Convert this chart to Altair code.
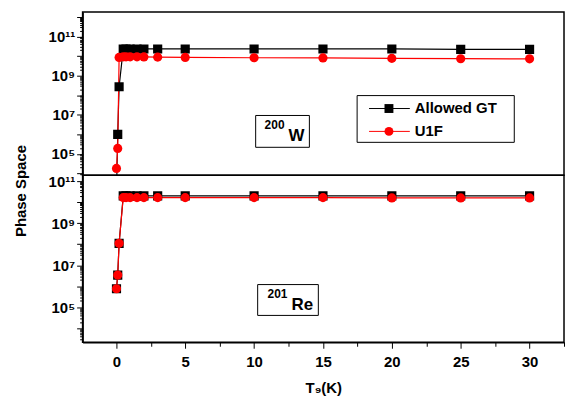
import altair as alt
import pandas as pd

# ---- data ----
T = [0.01, 0.1, 0.2, 0.5, 0.7, 1, 1.5, 2, 3, 5, 10, 15, 20, 25, 30]

w_gt = [1e3, 9.8e5, 2.7e8, 2.3e10, 2.3e10, 2.3e10, 2.3e10, 2.3e10, 2.3e10, 2.3e10,
        2.3e10, 2.3e10, 2.3e10, 2.2e10, 2.2e10]
w_u1f = [1.8e4, 1.9e5, 8.5e9, 9.1e9, 9.1e9, 9.1e9, 9.1e9, 9.0e9, 8.8e9, 8.5e9,
         8.2e9, 8.0e9, 7.6e9, 7.3e9, 7.2e9]

re_gt = [7.6e5, 3.4e6, 1.1e8, 2.0e10, 2.0e10, 2.0e10, 2.0e10, 2.0e10, 2.0e10, 2.0e10,
         2.0e10, 2.0e10, 2.0e10, 2.0e10, 2.0e10]
re_u1f = [7.6e5, 3.4e6, 1.1e8, 1.66e10, 1.66e10, 1.66e10, 1.66e10, 1.66e10, 1.66e10, 1.66e10,
          1.66e10, 1.66e10, 1.6e10, 1.6e10, 1.6e10]

series_names = ["Allowed GT", "U1F"]
series_colors = ["#000000", "#ff0000"]
series_shapes = ["square", "circle"]

x_ticks = [-2.5 + 2.5 * i for i in range(15)]
y_ticks = [m * 10 ** k for k in range(3, 13) for m in range(1, 10)]

FONT = "Liberation Sans"
W = 484


def frame(a, b):
    return pd.DataFrame({
        "T": T + T,
        "v": a + b,
        "series": [series_names[0]] * len(T) + [series_names[1]] * len(T),
    })


color = alt.Color("series:N", scale=alt.Scale(domain=series_names, range=series_colors), legend=None)
shape = alt.Shape("series:N", scale=alt.Scale(domain=series_names, range=series_shapes), legend=None)

major_test = "abs(datum.value/pow(10, round(log(datum.value)/LN10)) - 1) < 0.001"
exp_s = "round(log(datum.value)/LN10)"
y_label = (f"({major_test}) && ({exp_s} % 2 == 1) ? '10' + "
           f"({exp_s} == 3 ? '³' : {exp_s} == 5 ? '⁵' : {exp_s} == 7 ? '⁷' : {exp_s} == 9 ? '⁹' : '¹¹') : ''")


def y_axis():
    return alt.Axis(values=y_ticks, labelExpr=y_label, title=None, grid=False,
                    labelFont=FONT, labelFontWeight="bold", labelFontSize=15, labelColor="#000",
                    tickColor="#000", domainColor="#000", domainWidth=1.5, tickWidth=1,
                    tickSize={"condition": {"test": major_test, "value": 6}, "value": 3},
                    labelPadding=2, labelFlush=False, labelOverlap=False)


def x_axis(show):
    if show:
        return alt.Axis(values=x_ticks, title="T₉(K)", grid=False,
                        labelExpr="datum.value % 5 == 0 ? datum.value : ''",
                        labelFont=FONT, labelFontWeight="bold", labelFontSize=15, labelColor="#000",
                        titleFont=FONT, titleFontWeight="bold", titleFontSize=15, titleColor="#000",
                        titlePadding=12, labelPadding=6, labelFlush=False,
                        tickColor="#000", domainColor="#000", domainWidth=1.5,
                        tickSize={"condition": {"test": "datum.value % 5 == 0", "value": 6}, "value": 4})
    return None


view = alt.ViewBackground(stroke="#000", strokeWidth=1.5, fill="white")


def panel(df, ydom, height, show_x, extra):
    x = alt.X("T:Q", scale=alt.Scale(domain=[-2.45, 32.5], nice=False, zero=False), axis=x_axis(show_x))
    y = alt.Y("v:Q", scale=alt.Scale(type="log", domain=ydom, nice=False), axis=y_axis())
    base = alt.Chart(df)
    lines = base.mark_line(strokeWidth=1.2, clip=True).encode(x=x, y=y, color=color, detail="series:N")
    pts = base.mark_point(filled=True, size=85, opacity=1, clip=True).encode(x=x, y=y, color=color, shape=shape)
    return alt.layer(lines, pts, *extra).properties(width=W, height=height, view=view)


one = alt.Data(values=[{}])


def box(x1, x2, y1, y2):
    return alt.Chart(one).mark_rect(fill="white", stroke="#000", strokeWidth=1).encode(
        x=alt.value(x1), x2=alt.value(x2), y=alt.value(y1), y2=alt.value(y2))


def txt(s, x, y, size):
    return alt.Chart(one).mark_text(text=s, align="left", baseline="middle", font=FONT,
                                    fontWeight="bold", fontSize=size, color="#000").encode(
        x=alt.value(x), y=alt.value(y))


legend_layers = [box(276, 434, 84, 131)]
for i, (name, col, shp) in enumerate(zip(series_names, series_colors, series_shapes)):
    yy = 97 + 23 * i
    legend_layers.append(alt.Chart(one).mark_rule(color=col, strokeWidth=1).encode(
        x=alt.value(288), x2=alt.value(329), y=alt.value(yy)))
    legend_layers.append(alt.Chart(one).mark_point(filled=True, size=80, opacity=1, color=col, shape=shp).encode(
        x=alt.value(308), y=alt.value(yy)))
    legend_layers.append(txt(name, 334, yy, 15))

w_label = [box(174, 228, 104, 136), txt("200", 183, 114, 12), txt("W", 207, 125, 17)]
re_label = [box(176, 237, 110, 141), txt("201", 186, 119, 12), txt("Re", 210, 131, 17)]

top = panel(frame(w_gt, w_u1f), [10 ** 3.91, 10 ** 12.25], 164, False, legend_layers + w_label)
bottom = panel(frame(re_gt, re_u1f), [10 ** 3.33, 10 ** 11.29], 168, True, re_label)

chart = alt.vconcat(top, bottom, spacing=0, bounds="flush").properties(
    title=alt.TitleParams(text="Phase Space", orient="left", anchor="middle", font=FONT,
                          fontWeight="bold", fontSize=15, color="#000", offset=18, dx=12),
    padding={"left": 6, "top": 0, "right": 0, "bottom": 4},
    background="white",
)

chart.save("out.html", embed_options={"renderer": "svg", "actions": False})
